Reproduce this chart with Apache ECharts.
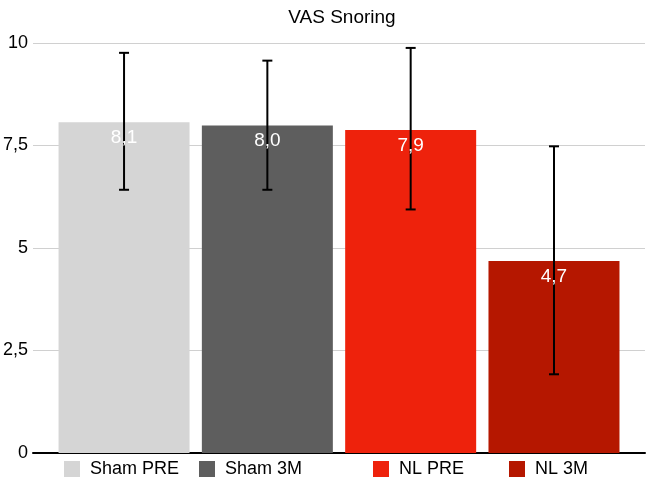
<!DOCTYPE html>
<html>
<head>
<meta charset="utf-8">
<script src="https://cdn.jsdelivr.net/npm/echarts@6/dist/echarts.min.js"></script>
<style>html,body{margin:0;padding:0;background:#fff}#c{width:650px;height:482px}</style>
</head>
<body>
<div id="c"></div>
<script>
const categories = ['Sham PRE', 'Sham 3M', 'NL PRE', 'NL 3M'];
const means = [8.07, 7.99, 7.88, 4.68];
const errLow = [6.42, 6.42, 5.94, 1.92];
const errHigh = [9.76, 9.57, 9.88, 7.48];
const colors = ['#d5d5d5', '#5e5e5e', '#ee220c', '#b51700'];
const legendLeft = [64, 199, 373, 509];

const FONT = '"Liberation Sans", Arial, Helvetica, sans-serif';
const fmt = v => Number(v).toFixed(1).replace('.', ',');
const BAR_W = 131, BAR_GAP = '9.4%';

const series = categories.map((name, i) => ({
  name: name,
  type: 'bar',
  data: [means[i]],
  barWidth: BAR_W,
  barGap: BAR_GAP,
  itemStyle: { color: colors[i] },
  z: 2
}));

series.push({
  type: 'custom',
  name: 'err',
  data: categories.map((c, i) => [0, errLow[i], errHigh[i], i, means[i]]),
  encode: { x: 0, y: [1, 2] },
  z: 10,
  silent: true,
  renderItem: function (params, api) {
    const i = api.value(3);
    const layout = api.barLayout({ count: categories.length, barWidth: BAR_W, barGap: BAR_GAP });
    const lo = api.coord([api.value(0), api.value(1)]);
    const hi = api.coord([api.value(0), api.value(2)]);
    const top = api.coord([api.value(0), api.value(4)]);
    const x = lo[0] + layout[i].offsetCenter;
    const hw = 5;
    const st = { stroke: '#000', lineWidth: 2 };
    return {
      type: 'group',
      children: [
        { type: 'line', shape: { x1: x, y1: lo[1], x2: x, y2: hi[1] }, style: st },
        { type: 'line', shape: { x1: x - hw, y1: lo[1], x2: x + hw, y2: lo[1] }, style: st },
        { type: 'line', shape: { x1: x - hw, y1: hi[1], x2: x + hw, y2: hi[1] }, style: st },
        { type: 'text', x: x, y: top[1] + 6, z2: 10,
          style: { text: fmt(api.value(4)), fill: '#fff', font: '19px ' + FONT, align: 'center', verticalAlign: 'top' } }
      ]
    };
  }
});

const legends = categories.map((name, i) => ({
  data: [name],
  left: legendLeft[i],
  top: 460,
  padding: 0,
  icon: 'rect',
  itemWidth: 16,
  itemHeight: 16,
  itemGap: 0,
  selectedMode: false,
  textStyle: { fontFamily: FONT, fontSize: 18, color: '#000', padding: [0, 0, 0, 5] }
}));

const chart = echarts.init(document.getElementById('c'), null, { renderer: 'canvas' });
chart.setOption({
  animation: false,
  backgroundColor: '#fff',
  title: {
    text: 'VAS Snoring',
    left: 337,
    textAlign: 'center',
    top: 3,
    textStyle: { fontFamily: FONT, fontSize: 19, fontWeight: 'normal', color: '#000' }
  },
  legend: legends,
  grid: { left: 30, right: 5, top: 43, bottom: 29, containLabel: false },
  xAxis: {
    type: 'category',
    data: ['VAS Snoring'],
    axisLine: { show: true, lineStyle: { color: '#000', width: 2 } },
    axisTick: { show: false },
    axisLabel: { show: false }
  },
  yAxis: {
    type: 'value',
    min: 0,
    max: 10,
    interval: 2.5,
    axisLine: { show: false },
    axisTick: { show: false },
    splitLine: { lineStyle: { color: '#d0d0d0', width: 1 } },
    axisLabel: {
      color: '#000',
      fontFamily: FONT,
      fontSize: 18,
      margin: 5,
      formatter: v => (Number.isInteger(v) ? String(v) : fmt(v))
    }
  },
  series: series
});
</script>
</body>
</html>
